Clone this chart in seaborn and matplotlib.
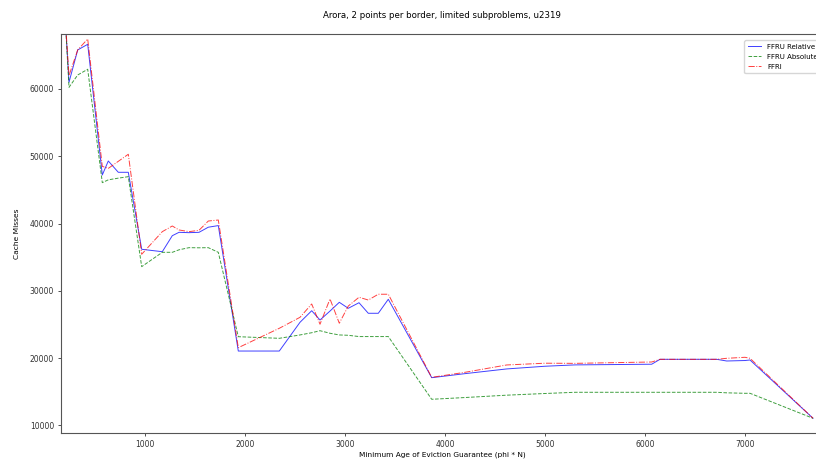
import matplotlib
matplotlib.use("Agg")
import matplotlib.pyplot as plt
import seaborn as sns
import pandas as pd

x_vals = [200, 240, 327, 427, 573, 633, 733, 833, 967, 1173, 1273, 1340, 1440, 1540,
          1633, 1733, 1933, 2343, 2550, 2667, 2750, 2850, 2943, 3033, 3140, 3233, 3333,
          3433, 3867, 4200, 4617, 5000, 5300, 6067, 6150, 6717, 6817, 7000, 7050, 7680]

ffru_relative = [71000, 61000, 65800, 66640, 47220, 49300, 47620, 47620, 36180, 35820,
                 38200, 38700, 38650, 38700, 39460, 39700, 21060, 21060, 25330, 27050,
                 25670, 27000, 28300, 27410, 28240, 26670, 26670, 28750, 17100, 17700,
                 18400, 18800, 19000, 19100, 19830, 19830, 19580, 19650, 19730, 11070]

ffru_absolute = [71000, 60250, 62080, 62930, 46080, 46500, 46750, 46970, 33600, 35730,
                 35730, 36100, 36420, 36400, 36420, 35730, 23190, 22950, 23450, 23780,
                 24080, 23700, 23450, 23400, 23210, 23210, 23210, 23210, 13890, 14150,
                 14500, 14750, 14930, 14930, 14930, 14930, 14850, 14780, 14780, 11070]

ffri = [71000, 62000, 65800, 67430, 48500, 48200, 49250, 50300, 35440, 38800,
        39640, 39050, 38800, 39000, 40380, 40530, 21560, 24440, 26070, 28050,
        25040, 28800, 25190, 27750, 29050, 28640, 29500, 29500, 17150, 17900,
        18990, 19250, 19230, 19430, 19830, 19830, 19980, 20130, 19980, 11070]

series_names = ["FFRU Relative", "FFRU Absolute", "FFRI"]
title = "Arora, 2 points per border, limited subproblems, u2319"
xlabel = "Minimum Age of Eviction Guarantee (phi * N)"
ylabel = "Cache Misses"

fig = plt.figure(figsize=(8.16, 4.59), dpi=100)
ax = fig.add_axes([61 / 816, 1 - 433 / 459, (823 - 61) / 816, (433 - 34) / 459])

styles = [("blue", "-"), ("green", "--"), ("red", "-.")]
for name, vals, (col, ls) in zip(series_names, [ffru_relative, ffru_absolute, ffri], styles):
    df = pd.DataFrame({"x": x_vals, "y": vals})
    sns.lineplot(data=df, x="x", y="y", ax=ax, color=col, linestyle=ls,
                 linewidth=0.7, alpha=0.75, label=name, sort=False)

ax.set_xlim(160, 7780)
ax.set_ylim(8880, 68170)
ax.set_xticks([1000, 2000, 3000, 4000, 5000, 6000, 7000])
ax.set_yticks([10000, 20000, 30000, 40000, 50000, 60000])
ax.tick_params(labelsize=5.5, length=2.5, width=0.6, colors="#333333")
ax.tick_params(axis="x", pad=2.5)
ax.tick_params(axis="y", pad=2.5)
for s in ax.spines.values():
    s.set_linewidth(0.8)
    s.set_color("#555555")
ax.set_xlabel(xlabel, fontsize=5.3, labelpad=2)
ax.set_ylabel(ylabel, fontsize=5.4, labelpad=7)
fig.suptitle(title, fontsize=6.2, x=442 / 816, y=1 - 11 / 459)

ax.get_legend().remove()
handles, labels = ax.get_legend_handles_labels()
fig.legend(handles, labels, loc="upper left", bbox_to_anchor=(741 / 816, 1 - 37 / 459),
           fontsize=5.0, frameon=True, framealpha=0.8, edgecolor="#cccccc",
           handlelength=2.0, handletextpad=0.8, borderpad=0.45, labelspacing=0.6)

fig.savefig("out.png", dpi=100)
